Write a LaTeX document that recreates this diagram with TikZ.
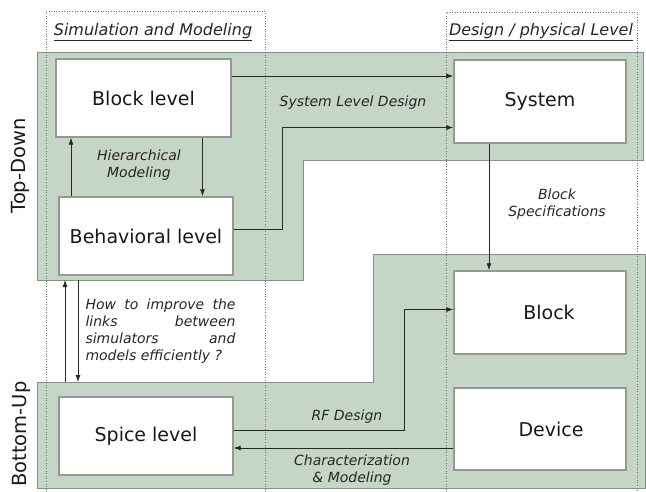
\documentclass[tikz,border=0pt]{standalone}
\usepackage{fontspec}
\setmainfont{DejaVu Sans}
\usetikzlibrary{arrows.meta}
\definecolor{pane}{RGB}{198,214,198}
\definecolor{paneline}{RGB}{128,146,128}
\definecolor{boxline}{RGB}{150,152,150}
\definecolor{wire}{RGB}{40,40,40}

\begin{document}
\begin{tikzpicture}[x=1pt, y=-1pt,
		box/.style={draw=boxline, line width=1.4pt, fill=white, inner sep=0pt, text=black!90, font=\fontsize{19}{22}\selectfont},
		note/.style={font=\fontsize{14}{17}\selectfont\itshape, align=center, text=black!85},
		side/.style={rotate=90, text=black!90, font=\fontsize{19.5}{22}\selectfont},
		head/.style={text=black!85, font=\fontsize{16}{19}\selectfont\itshape},
		arr/.style={draw=wire, line width=0.8pt, -{Latex[length=7pt,width=5pt]}},
		col/.style={draw=black!55, dotted, line width=0.6pt}]
		\useasboundingbox (0,0) rectangle (646,492);
		
		% top-down and bottom-up panes
		\filldraw[fill=pane, draw=paneline, line width=0.8pt] (37,52) -- (643,52) -- (643,160) -- (303,160) -- (303,280) -- (37,280) -- cycle;
		\filldraw[fill=pane, draw=paneline, line width=0.8pt] (373,254) -- (645,254) -- (645,488) -- (37,488) -- (37,382) -- (373,382) -- cycle;
		\coordinate (tdb) at (37,280);
		\coordinate (but) at (37,382);
		
		% the two columns
		\draw[col] (46,492) -- (46,11) -- (265,11) -- (265,492);
		\draw[col] (446,492) -- (446,12) -- (637,12) -- (637,492);
		\node[head] (hsim) at (153,32) {\underline{Simulation and Modeling}};
		\node[head] (hdes) at (541,32) {\underline{Design / physical Level}};
		
		\node[side] (td) at (20,166) {Top-Down};
		\node[side] (bu) at (21,434) {Bottom-Up};
		
		\node[box, minimum width=175pt, minimum height=78pt] (blk) at (143.5,98) {Block level};
		\node[box, minimum width=174pt, minimum height=78pt] (beh) at (146,236) {Behavioral level};
		\node[box, minimum width=174pt, minimum height=78pt] (spc) at (146,436) {Spice level};
		\node[box, minimum width=172pt, minimum height=83pt] (sys) at (540,101.5) {System};
		\node[box, minimum width=172pt, minimum height=83pt] (blkp) at (540,312.5) {\hspace*{18pt}Block};
		\node[box, minimum width=172pt, minimum height=82pt] (dev) at (540,429) {\hspace*{22pt}Device};
		
		\draw[arr] ([yshift=22pt]blk.east) -- ([yshift=22pt]blk.east -| sys.west);
		\draw[arr] ([yshift=7pt]beh.east) -- ++(49,0) |- ([yshift=-26pt]sys.west);
		\draw[arr] ([xshift=59pt]blk.south) -- ([xshift=59pt]blk.south |- beh.north);
		\draw[arr] ([xshift=-75pt]beh.north) -- ([xshift=-75pt]beh.north |- blk.south);
		\draw[arr] ([xshift=-68pt]beh.south |- tdb) -- ([xshift=-68pt]beh.south |- but);
		\draw[arr] ([xshift=-81pt]beh.south |- but) -- ([xshift=-81pt]beh.south |- tdb);
		\draw[arr] ([xshift=-51pt]sys.south) -- ([xshift=-51pt]sys.south |- blkp.north);
		\draw[arr] ([yshift=6pt]spc.east) -- ++(171,0) |- ([yshift=3pt]blkp.west);
		\draw[arr] ([yshift=-19pt]dev.west) -- ([yshift=-19pt]dev.west -| spc.east);
		
		\node[note] (lsld) at (353,103) {System Level Design};
		\node[note] (lhier) at (139,165) {Hierarchical\\Modeling};
		\node[note] (lspec) at (557,204) {Block\\Specifications};
		\node[note] (lrf) at (347,417) {RF Design};
		\node[note] (lchar) at (352,470) {Characterization\\\& Modeling};
		\node[note, align=left, inner sep=0pt] (lhow) at (160.5,331) {\makebox[150pt][s]{How to improve the}\\\makebox[150pt][s]{links between}\\\makebox[150pt][s]{simulators and}\\models efficiently ?};
\end{tikzpicture}
\end{document}
